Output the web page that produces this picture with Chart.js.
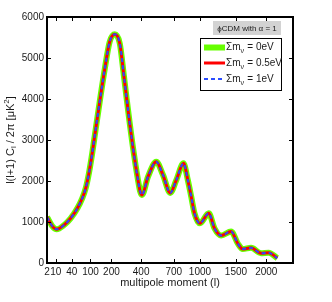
<!DOCTYPE html>
<html>
<head>
<meta charset="utf-8">
<script src="https://cdn.jsdelivr.net/npm/chart.js@4.4.1/dist/chart.umd.min.js"></script>
<style>
  html, body { margin: 0; padding: 0; background: #fff; }
</style>
</head>
<body>
<canvas id="cmbChart" width="332" height="302"></canvas>
<script>
// multipole moments sampled along the curve
const ells = [2, 3, 6, 11, 23, 37, 55, 70, 82, 94, 107, 118, 140, 165, 190, 219, 249, 275, 301, 339, 376, 392, 407, 456, 529, 591, 663, 726, 805, 854, 894, 933, 974, 1000, 1113, 1190, 1282, 1427, 1527, 1605, 1740, 1908, 2041, 2200];
// l(l+1)C_l/2pi in uK^2, one array per neutrino mass
const dlZero = [1120, 1050, 900, 822, 927, 1090, 1334, 1578, 1822, 2188, 2676, 3120, 3940, 4750, 5390, 5580, 5360, 4585, 3800, 2800, 2020, 1750, 1660, 2100, 2470, 2150, 1710, 2020, 2430, 2024, 1617, 1212, 1007, 968, 1212, 846, 670, 770, 480, 340, 370, 240, 250, 120];
const dlHalf = [1120, 1050, 900, 822, 927, 1090, 1334, 1578, 1822, 2188, 2676, 3120, 3940, 4750, 5390, 5580, 5360, 4585, 3800, 2800, 2020, 1750, 1660, 2100, 2470, 2150, 1710, 2020, 2430, 2024, 1617, 1212, 1007, 968, 1212, 846, 670, 770, 480, 340, 370, 240, 250, 120];
const dlOne = [1120, 1050, 900, 822, 927, 1090, 1334, 1578, 1822, 2188, 2676, 3120, 3940, 4750, 5390, 5580, 5360, 4585, 3800, 2800, 2020, 1750, 1660, 2100, 2470, 2150, 1710, 2020, 2430, 2024, 1617, 1212, 1007, 968, 1212, 846, 670, 770, 480, 340, 370, 240, 250, 120];
const massLabels = ['0eV', '0.5eV', '1eV'];
// tick labels
const xTicks = [2, 10, 40, 100, 200, 400, 700, 1000, 1500, 2000];
const yTicks = [0, 1000, 2000, 3000, 4000, 5000, 6000];

const FONT = "'Liberation Sans', Arial, Helvetica, sans-serif";
const TXT = '#1a1a1a';

// x axis is square-root of l
const toPts = (arr) => ells.map((l, i) => ({ x: Math.sqrt(l), y: arr[i] }));

// frame, inner ticks, y title and legend (MATLAB look)
const decorations = {
    id: 'decorations',
    afterDraw(chart) {
        const { ctx, chartArea: a, scales } = chart;
        const xs = scales.x, ys = scales.y;
        ctx.save();

        // ticks inside on all four sides
        ctx.strokeStyle = '#000';
        ctx.lineWidth = 1;
        ctx.beginPath();
        xTicks.forEach(v => {
            const px = Math.round(xs.getPixelForValue(Math.sqrt(v))) + 0.5;
            ctx.moveTo(px, a.bottom); ctx.lineTo(px, a.bottom - 4);
            ctx.moveTo(px, a.top); ctx.lineTo(px, a.top + 4);
        });
        yTicks.forEach(v => {
            const py = Math.round(ys.getPixelForValue(v)) + 0.5;
            ctx.moveTo(a.left, py); ctx.lineTo(a.left + 4, py);
            ctx.moveTo(a.right, py); ctx.lineTo(a.right - 4, py);
        });
        ctx.stroke();

        // box
        ctx.lineWidth = 2;
        ctx.strokeRect(a.left, a.top, a.right - a.left, a.bottom - a.top);

        // y title with sub/superscript
        ctx.fillStyle = TXT;
        ctx.translate(11, (a.top + a.bottom) / 2);
        ctx.rotate(-Math.PI / 2);
        const parts = [
            { t: 'l(l+1) C', s: 11, dy: 0 },
            { t: 'l', s: 8, dy: 3 },
            { t: ' / 2\u03c0 [\u03bcK', s: 11, dy: 0 },
            { t: '2', s: 8, dy: -4 },
            { t: ']', s: 11, dy: 0 }
        ];
        let total = 0;
        parts.forEach(p => { ctx.font = p.s + 'px ' + FONT; p.w = ctx.measureText(p.t).width; total += p.w; });
        let cx = -total / 2;
        ctx.textBaseline = 'middle';
        ctx.textAlign = 'left';
        parts.forEach(p => { ctx.font = p.s + 'px ' + FONT; ctx.fillText(p.t, cx, p.dy); cx += p.w; });
        ctx.setTransform(1, 0, 0, 1, 0, 0);

        // grey annotation box
        ctx.fillStyle = '#d3d3d3';
        ctx.fillRect(213, 21, 68, 14);
        ctx.fillStyle = TXT;
        ctx.font = '8px ' + FONT;
        ctx.textAlign = 'center';
        ctx.fillText('\u03d5CDM with \u03b1 = 1', 247, 28.5);

        // legend box
        ctx.fillStyle = '#fff';
        ctx.fillRect(200.5, 38.5, 81, 52);
        ctx.strokeStyle = '#000';
        ctx.lineWidth = 1;
        ctx.strokeRect(200.5, 38.5, 81, 52);
        const rowsY = [47.5, 63, 79];
        chart.data.datasets.forEach((ds, i) => {
            const y = rowsY[i];
            ctx.strokeStyle = ds.borderColor;
            ctx.lineWidth = ds.borderWidth;
            ctx.setLineDash(ds.borderDash || []);
            ctx.beginPath();
            ctx.moveTo(204, y); ctx.lineTo(225, y);
            ctx.stroke();
            ctx.setLineDash([]);
            ctx.fillStyle = TXT;
            ctx.textAlign = 'left';
            ctx.font = '10px ' + FONT;
            ctx.fillText('\u03a3m', 226, y);
            const w = ctx.measureText('\u03a3m').width;
            ctx.font = '7px ' + FONT;
            ctx.fillText('\u03bd', 226 + w, y + 4);
            ctx.font = '10px ' + FONT;
            ctx.fillText(' = ' + massLabels[i], 226 + w + 4, y);
        });
        ctx.restore();
    }
};

const ctx = document.getElementById('cmbChart').getContext('2d');
new Chart(ctx, {
    type: 'line',
    data: {
        datasets: [
            { label: massLabels[0], data: toPts(dlZero), borderColor: '#66ff00', borderWidth: 6, order: 3 },
            { label: massLabels[1], data: toPts(dlHalf), borderColor: '#ff0000', borderWidth: 3, order: 2 },
            { label: massLabels[2], data: toPts(dlOne), borderColor: '#2a4cff', borderWidth: 2, borderDash: [4, 3], order: 1 }
        ]
    },
    options: {
        responsive: false,
        animation: false,
        devicePixelRatio: 1,
        layout: { padding: { top: 17, right: 39, left: 0, bottom: 12 } },
        elements: {
            point: { radius: 0 },
            line: { cubicInterpolationMode: 'monotone', fill: false }
        },
        plugins: { legend: { display: false }, tooltip: { enabled: false } },
        scales: {
            x: {
                type: 'linear',
                min: Math.sqrt(2),
                max: 50,
                afterBuildTicks: s => { s.ticks = xTicks.map(v => ({ value: Math.sqrt(v) })); },
                afterFit: s => { s.height = 27; },
                grid: { display: false, drawTicks: false },
                border: { display: false },
                ticks: {
                    autoSkip: false, maxRotation: 0, padding: 3,
                    color: TXT, font: { family: FONT, size: 10 },
                    callback: (v, i) => xTicks[i]
                },
                title: {
                    display: true, text: 'multipole moment (l)', color: TXT,
                    font: { family: FONT, size: 11 }, padding: { top: 0, bottom: 0 }
                }
            },
            y: {
                min: 0,
                max: 6000,
                afterFit: s => { s.width = 47; },
                afterBuildTicks: s => { s.ticks = yTicks.map(v => ({ value: v })); },
                grid: { display: false, drawTicks: false },
                border: { display: false },
                ticks: { padding: 3, color: TXT, font: { family: FONT, size: 10 }, callback: v => String(v) }
            }
        }
    },
    plugins: [decorations]
});
</script>
</body>
</html>
